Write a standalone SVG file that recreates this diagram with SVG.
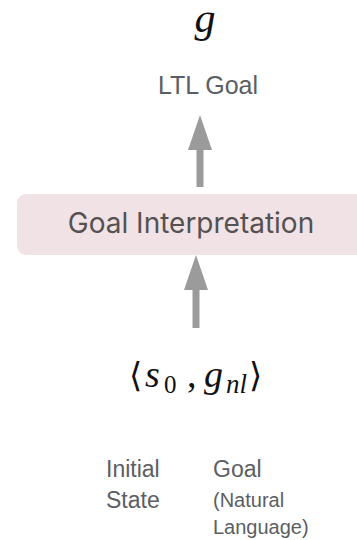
<svg xmlns="http://www.w3.org/2000/svg" width="357" height="540" viewBox="0 0 357 540">
<style>
.lbl{font-family:"Liberation Sans",Arial,sans-serif;fill:#5b5e63}
.math{font-family:"Liberation Serif","Times New Roman",serif;font-style:italic;fill:#111}
.br{font-family:"DejaVu Serif",serif;font-style:normal;font-weight:normal;fill:#111}
.arrow{fill:#9b9b9b}
</style>
<rect width="357" height="540" fill="#ffffff"/>
<g id="goal-g">
<text class="math" x="205" y="32" font-size="42" text-anchor="middle">g</text>
</g>
<g id="ltl-goal">
<text class="lbl" x="208" y="94" font-size="25" text-anchor="middle" fill="#55585c">LTL Goal</text>
</g>
<g id="goal-interpretation">
<rect x="17" y="194" width="360" height="61" rx="9" fill="#f1e3e5"/>
<text x="191" y="233" font-size="28" text-anchor="middle" font-family="Inter,'Liberation Sans',sans-serif" fill="#555152">Goal Interpretation</text>
</g>
<g id="input">
<text class="math" y="387" font-size="38"><tspan class="br" x="129" font-size="34">⟨</tspan><tspan x="145">s</tspan><tspan x="164" dy="6" font-size="25" font-style="normal">0</tspan><tspan x="187" dy="-6" font-style="normal">,</tspan><tspan x="204">g</tspan><tspan x="226" dy="6" font-size="27">nl</tspan><tspan class="br" x="249" dy="-6" font-size="34">⟩</tspan></text>
</g>
<g id="label-initial-state">
<text class="lbl" x="106" y="477" font-size="23">Initial</text>
<text class="lbl" x="106" y="508" font-size="23">State</text>
</g>
<g id="label-goal-nl">
<text class="lbl" x="213" y="477" font-size="23">Goal</text>
<text class="lbl" x="213" y="507" font-size="20">(Natural</text>
<text class="lbl" x="213" y="534" font-size="20">Language)</text>
</g>
<g id="connectors">
<path class="arrow" d="M200 115 L212 150 L203.5 150 L203.5 187 L196.5 187 L196.5 150 L188 150 Z"/>
<path class="arrow" d="M196 255 L208 290 L199.5 290 L199.5 328 L192.5 328 L192.5 290 L184 290 Z"/>
</g>
</svg>
